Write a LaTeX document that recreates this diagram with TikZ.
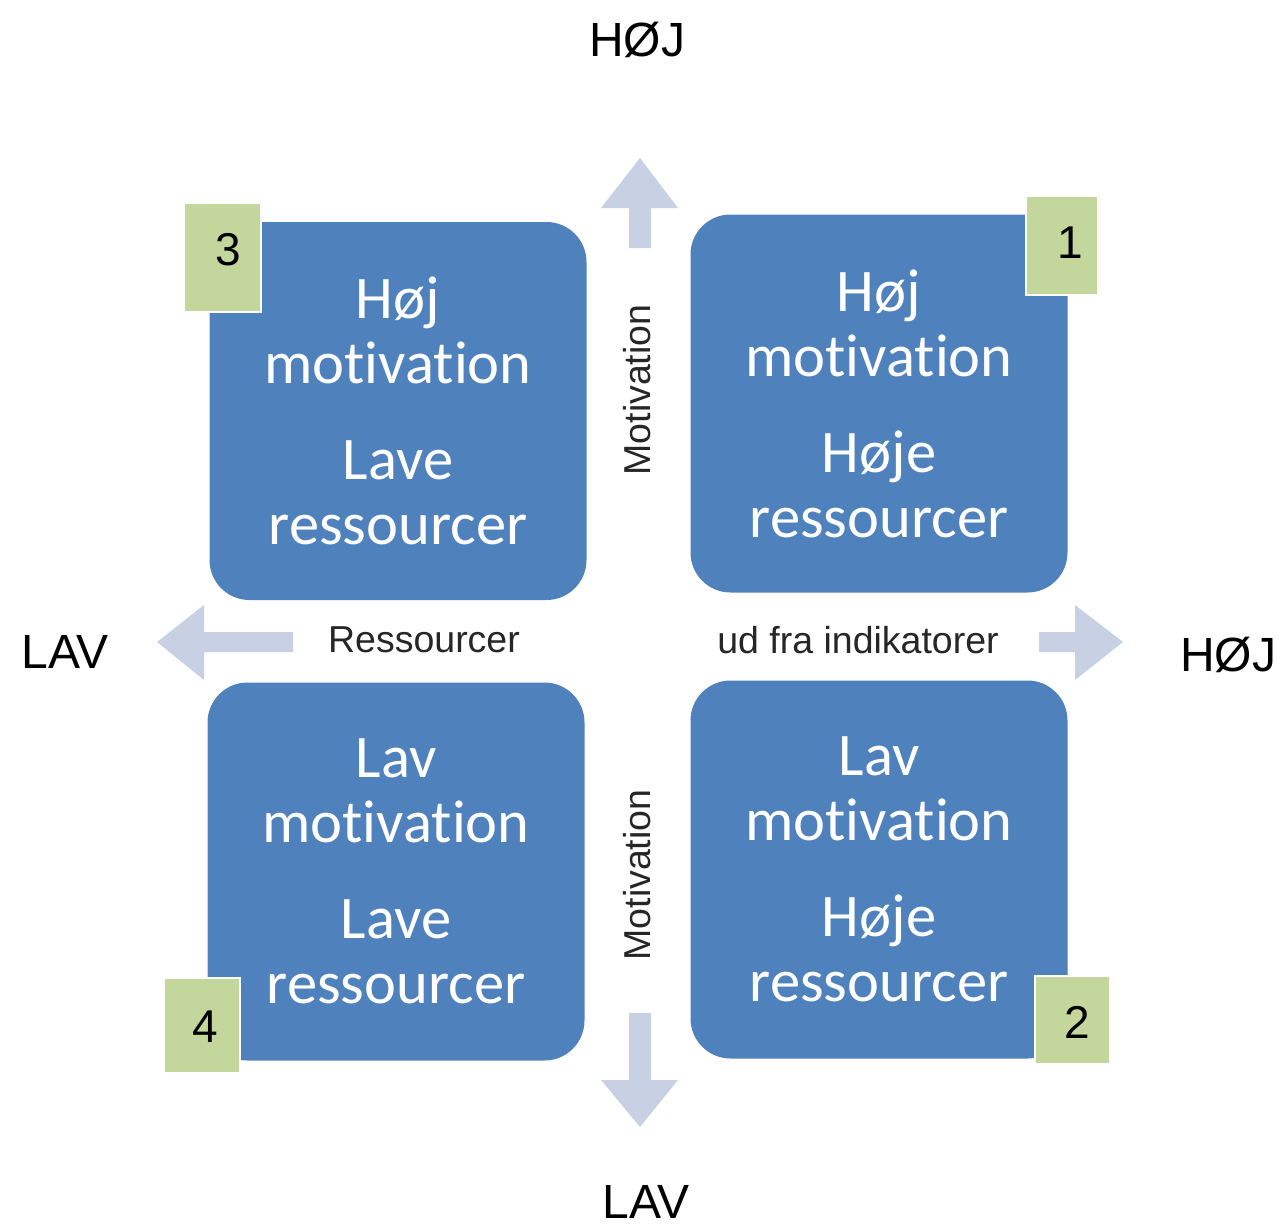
\documentclass[tikz,border=0pt]{standalone}
\usepackage{fontspec}
\setmainfont{Liberation Sans}
\newfontfamily\boxfont[Ligatures=NoCommon]{Carlito}
\definecolor{boxblue}{HTML}{4F81BD}
\definecolor{tagGreen}{HTML}{C3D69B}
\definecolor{arrowgray}{HTML}{C8D0E4}
\begin{document}
\begin{tikzpicture}[x=1pt,y=-1pt,
  quad/.style={fill=boxblue, rounded corners=40pt, inner sep=0pt,
    minimum width=377pt, minimum height=378pt, text=white, align=center,
    font=\boxfont\fontsize{60.5}{65}\selectfont},
  tagbox/.style={fill=tagGreen, draw=white, line width=1.2pt, inner sep=0pt},
  tagnum/.style={font=\fontsize{46}{50}\selectfont, text=black, inner sep=0pt},
  axislabel/.style={font=\fontsize{48}{52}\selectfont, text=black, inner sep=0pt},
  axistext/.style={font=\fontsize{37.5}{40}\selectfont, text=black!85, inner sep=0pt},
  blockarrow/.style={fill=arrowgray, draw=none}]
\useasboundingbox (0,0) rectangle (1278,1229);

% quadrant boxes
\node[quad] (q3) at (398,411) {Høj\\motivation\\[31pt]Lave\\ressourcer};
\node[quad] (q1) at (879,403.5) {Høj\\motivation\\[31pt]Høje\\ressourcer};
\node[quad] (q4) at (396,871.5) {Lav\\motivation\\[31pt]Lave\\ressourcer};
\node[quad] (q2) at (879,869.5) {Lav\\motivation\\[31pt]Høje\\ressourcer};

% green tags
\node[tagbox, minimum width=77pt, minimum height=109pt] (t3) at (222.5,257.5) {};
\node[tagnum] (n3) at (228,250) {3};
\node[tagbox, minimum width=72pt, minimum height=99pt] (t1) at (1062,245.5) {};
\node[tagnum] (n1) at (1070,243) {1};
\node[tagbox, minimum width=76pt, minimum height=95pt] (t4) at (202,1025.5) {};
\node[tagnum] (n4) at (205,1027) {4};
\node[tagbox, minimum width=75pt, minimum height=88pt] (t2) at (1072.5,1020) {};
\node[tagnum] (n2) at (1077,1022) {2};

% block arrows
\fill[blockarrow] (640,158) -- (678,208) -- (651,208) -- (651,248) -- (629,248) -- (629,208) -- (601,208) -- cycle;
\fill[blockarrow] (640,1127) -- (678,1080) -- (651,1080) -- (651,1013) -- (629,1013) -- (629,1080) -- (601,1080) -- cycle;
\fill[blockarrow] (157,642) -- (204,605) -- (204,632) -- (293,632) -- (293,652) -- (204,652) -- (204,680) -- cycle;
\fill[blockarrow] (1123,642) -- (1075,605) -- (1075,632) -- (1039,632) -- (1039,652) -- (1075,652) -- (1075,680) -- cycle;

% axis texts
\node[axislabel] (top) at (637,40) {HØJ};
\node[axislabel] (left) at (65,652) {LAV};
\node[axislabel] (right) at (1228,655) {HØJ};
\node[axislabel] (bottom) at (646,1202) {LAV};
\node[axistext] (res) at (424,640) {Ressourcer};
\node[axistext] (ind) at (858,640) {ud fra indikatorer};
\node[axistext, rotate=90] (mot1) at (637,390) {Motivation};
\node[axistext, rotate=90] (mot2) at (637,875) {Motivation};
\end{tikzpicture}
\end{document}
